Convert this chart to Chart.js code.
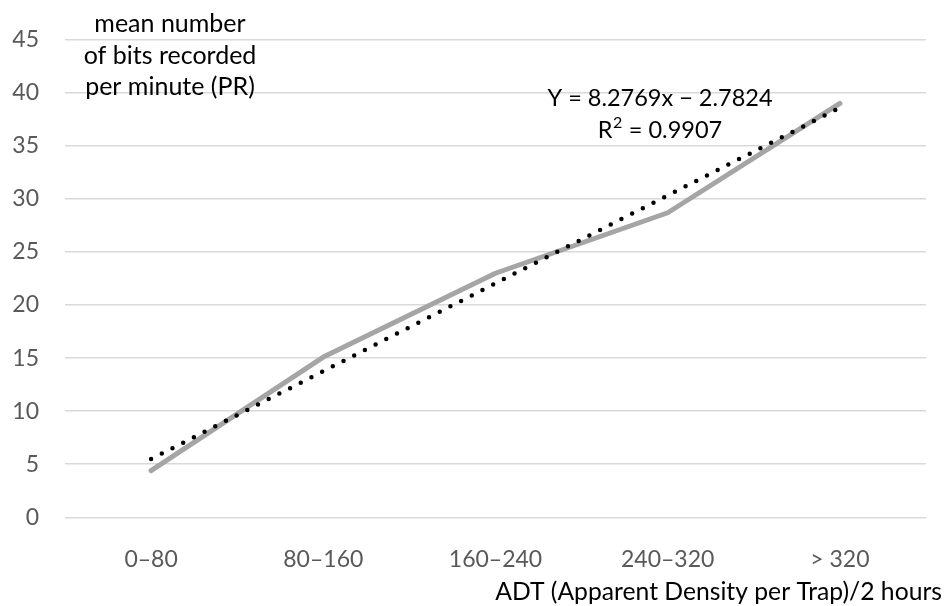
<!DOCTYPE html>
<html>
<head>
<meta charset="utf-8">
<script src="https://cdn.jsdelivr.net/npm/chart.js@4.4.1/dist/chart.umd.min.js"></script>
<style>
    body { margin: 0; background: #fff; }
    #wrap { width: 950px; height: 606px; position: relative; }
</style>
</head>
<body>
<div id="wrap"><canvas id="chart"></canvas></div>
<script>
// categories (ADT per trap, 2 hours)
const categories = ["0\u201380", "80\u2013160", "160\u2013240", "240\u2013320", "> 320"];
// mean PR per category
const prValues = [4.4, 15.1, 23.0, 28.7, 39.0];
// linear trendline values at each category (Y = 8.2769x - 2.7824)
const trendValues = [5.49, 13.77, 22.05, 30.33, 38.60];
const yTicks = [0, 5, 10, 15, 20, 25, 30, 35, 40, 45];

const yTitleLines = ["mean number", "of bits recorded", "per minute (PR)"];
const equationText = "Y = 8.2769x \u2212 2.7824";
const r2Parts = ["R", "2", " = 0.9907"];
const xTitle = "ADT (Apparent Density per Trap)/2 hours";

const FONT = "Lato, 'Open Sans', sans-serif";

// draws the free-standing texts (axis titles and trendline equation)
const textPlugin = {
    id: "texts",
    afterDraw(chart) {
        const ctx = chart.ctx;
        ctx.save();
        ctx.fillStyle = "#000";
        ctx.textBaseline = "alphabetic";

        ctx.font = "25px " + FONT;
        ctx.textAlign = "center";
        yTitleLines.forEach((line, i) => ctx.fillText(line, 170, 32 + i * 31.5));

        const eqFont = "23.5px " + FONT;
        const supFont = "16px " + FONT;
        ctx.font = eqFont;
        ctx.fillText(equationText, 660, 106);

        // R² line with a real superscript
        ctx.textAlign = "left";
        const wR = ctx.measureText(r2Parts[0]).width;
        const wRest = ctx.measureText(r2Parts[2]).width;
        ctx.font = supFont;
        const wSup = ctx.measureText(r2Parts[1]).width;
        let x = 660 - (wR + wSup + 1 + wRest) / 2;
        ctx.font = eqFont;
        ctx.fillText(r2Parts[0], x, 138);
        x += wR + 0.5;
        ctx.font = supFont;
        ctx.fillText(r2Parts[1], x, 128);
        x += wSup + 0.5;
        ctx.font = eqFont;
        ctx.fillText(r2Parts[2], x, 138);

        ctx.font = "24.7px " + FONT;
        ctx.textAlign = "right";
        ctx.fillText(xTitle, 942, 600);
        ctx.restore();
    }
};

const ctx = document.getElementById("chart").getContext("2d");
new Chart(ctx, {
    type: "line",
    data: {
        labels: categories,
        datasets: [
            {
                label: "Linear (PR)",
                data: trendValues,
                borderColor: "#000",
                borderWidth: 4.5,
                borderDash: [0, 12],
                borderCapStyle: "round",
                pointRadius: 0,
                fill: false,
                order: 0
            },
            {
                label: "PR",
                data: prValues,
                borderColor: "#a5a5a5",
                borderWidth: 5,
                borderCapStyle: "round",
                borderJoinStyle: "round",
                pointRadius: 0,
                fill: false,
                order: 1
            }
        ]
    },
    options: {
        responsive: true,
        maintainAspectRatio: false,
        animation: false,
        layout: { padding: { top: 28, right: 24, bottom: 0, left: 0 } },
        plugins: {
            legend: { display: false },
            tooltip: { enabled: false }
        },
        scales: {
            x: {
                offset: true,
                grid: { display: false },
                border: { display: false },
                ticks: {
                    color: "#595959",
                    font: { family: FONT, size: 23 },
                    padding: 20,
                    maxRotation: 0
                },
                afterFit(scale) { scale.height = 88.7; }
            },
            y: {
                min: 0,
                max: 45,
                afterBuildTicks(scale) { scale.ticks = yTicks.map(v => ({ value: v })); },
                grid: { color: "#d9d9d9", lineWidth: 1.5, drawTicks: false },
                border: { display: false },
                ticks: {
                    color: "#595959",
                    font: { family: FONT, size: 23 },
                    padding: 26
                },
                afterFit(scale) { scale.width = 65; }
            }
        }
    },
    plugins: [textPlugin]
});
</script>
</body>
</html>
